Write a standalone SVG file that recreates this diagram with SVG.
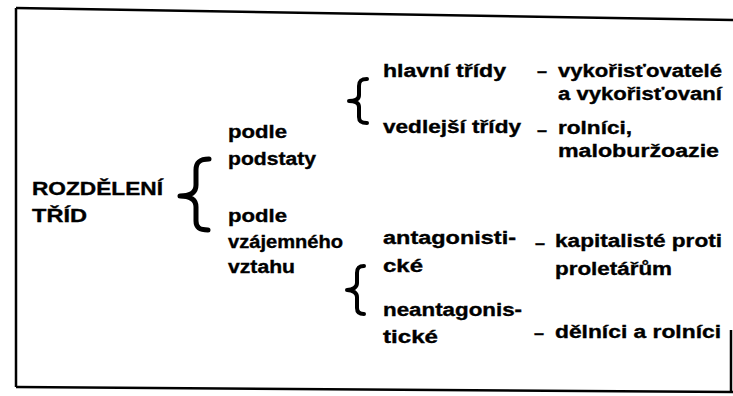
<svg xmlns="http://www.w3.org/2000/svg" width="733" height="396" viewBox="0 0 733 396">
<style>
text{font-family:"Liberation Sans",Arial,sans-serif;font-weight:bold;font-size:18px;fill:#000;stroke:#000;stroke-width:0.35}
.frame{stroke:#000;fill:none;stroke-width:2.5}
.brace{stroke:#000;fill:none;stroke-linecap:round;stroke-linejoin:round}
</style>
<rect width="733" height="396" fill="#fff"/>
<g id="frame">
<path class="frame" d="M16,8 L733,20"/>
<path class="frame" d="M16,8 L16,387"/>
<path class="frame" d="M16,387 L733,392"/>
<path class="frame" stroke-width="1.5" d="M731,330 L731,392"/>
</g>
<g id="connectors">
<path class="brace" stroke-width="5" d="M209,159 C200,159 196,162 196,170 L196,185 C196,192 191,196 180,196 C191,196 196,200 196,207 L196,221 C196,228 200,230 208,230"/>
<path class="brace" stroke-width="4" d="M367,79 C361,79 359,81 359,86 L359,95 C359,99 355,101 349,101 C355,101 359,103 359,107 L359,117 C359,121 361,123 367,123"/>
<path class="brace" stroke-width="4" d="M364,266 C359,266 357,268 357,273 L357,283 C357,287 353,290 347,290 C353,290 357,293 357,297 L357,308 C357,312 359,314 364,314"/>
</g>
<g id="root">
<text x="32" y="195" textLength="131" lengthAdjust="spacingAndGlyphs">ROZDĚLENÍ</text>
<text x="32" y="222" textLength="55" lengthAdjust="spacingAndGlyphs">TŘÍD</text>
</g>
<g id="podstaty">
<text x="228" y="138" textLength="59" lengthAdjust="spacingAndGlyphs">podle</text>
<text x="228" y="165" textLength="88" lengthAdjust="spacingAndGlyphs">podstaty</text>
</g>
<g id="vztah">
<text x="228" y="222" textLength="59" lengthAdjust="spacingAndGlyphs">podle</text>
<text x="228" y="248" textLength="115" lengthAdjust="spacingAndGlyphs">vzájemného</text>
<text x="228" y="273" textLength="67" lengthAdjust="spacingAndGlyphs">vztahu</text>
</g>
<g id="hlavni">
<text x="383" y="77" textLength="123" lengthAdjust="spacingAndGlyphs">hlavní třídy</text>
</g>
<g id="vedlejsi">
<text x="383" y="133" textLength="138" lengthAdjust="spacingAndGlyphs">vedlejší třídy</text>
</g>
<g id="vykoristovatele">
<text x="537" y="77">–</text>
<text x="558" y="77" textLength="164" lengthAdjust="spacingAndGlyphs">vykořisťovatelé</text>
<text x="558" y="100" textLength="164" lengthAdjust="spacingAndGlyphs">a vykořisťovaní</text>
</g>
<g id="rolnici">
<text x="537" y="136">–</text>
<text x="558" y="134" textLength="74" lengthAdjust="spacingAndGlyphs">rolníci,</text>
<text x="558" y="157" textLength="161" lengthAdjust="spacingAndGlyphs">maloburžoazie</text>
</g>
<g id="antagonisticke">
<text x="383" y="244" textLength="133" lengthAdjust="spacingAndGlyphs">antagonisti-</text>
<text x="383" y="272" textLength="40" lengthAdjust="spacingAndGlyphs">cké</text>
</g>
<g id="neantagonisticke">
<text x="383" y="316" textLength="139" lengthAdjust="spacingAndGlyphs">neantagonis-</text>
<text x="383" y="343" textLength="55" lengthAdjust="spacingAndGlyphs">tické</text>
</g>
<g id="kapitaliste">
<text x="535" y="249">–</text>
<text x="555" y="247" textLength="167" lengthAdjust="spacingAndGlyphs">kapitalisté proti</text>
<text x="555" y="275" textLength="117" lengthAdjust="spacingAndGlyphs">proletářům</text>
</g>
<g id="delnici">
<text x="534" y="339">–</text>
<text x="555" y="338" textLength="166" lengthAdjust="spacingAndGlyphs">dělníci a rolníci</text>
</g>
</svg>
